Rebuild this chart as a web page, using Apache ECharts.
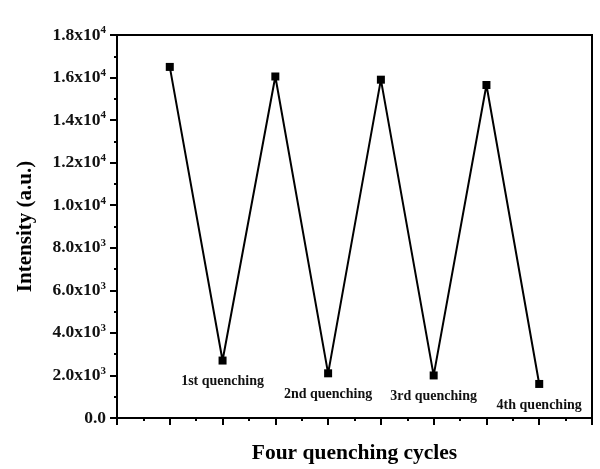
<!DOCTYPE html>
<html>
<head>
<meta charset="utf-8">
<script src="https://cdn.jsdelivr.net/npm/echarts@6/dist/echarts.min.js"></script>
<style>
html,body{margin:0;padding:0;background:#fff;}
#chart{width:600px;height:469px;}
</style>
</head>
<body>
<div id="chart"></div>
<script>
// Data
const cycles = [1, 2, 3, 4, 5, 6, 7, 8];
const intensity = [16500, 2700, 16050, 2100, 15900, 2000, 15650, 1600];
const annotations = ['', '1st quenching', '', '2nd quenching', '', '3rd quenching', '', '4th quenching'];
// y tick labels: value -> [mantissa, exponent]
const yTickValues = [0, 2000, 4000, 6000, 8000, 10000, 12000, 14000, 16000, 18000];
const yTickMantissa = ['0.0', '2.0', '4.0', '6.0', '8.0', '1.0', '1.2', '1.4', '1.6', '1.8'];
const yTickExponent = ['', '3', '3', '3', '3', '4', '4', '4', '4', '4'];

const FONT = '"Liberation Serif", "Times New Roman", serif';

const seriesData = cycles.map((c, i) => {
  const item = { value: [c, intensity[i]] };
  if (annotations[i]) {
    item.label = {
      show: true,
      position: 'bottom',
      distance: 10,
      formatter: annotations[i],
      fontFamily: FONT,
      fontWeight: 'bold',
      fontSize: 14,
      color: '#111'
    };
  }
  return item;
});

const chart = echarts.init(document.getElementById('chart'), null, { renderer: 'canvas' });
chart.setOption({
  backgroundColor: '#ffffff',
  animation: false,
  grid: {
    left: 117, right: 8, top: 35, bottom: 51,
    outerBoundsMode: 'none',
    containLabel: false,
    show: true, borderColor: '#000', borderWidth: 2, backgroundColor: 'transparent'
  },
  xAxis: {
    type: 'value',
    min: 0, max: 9, interval: 1,
    name: 'Four quenching cycles',
    nameLocation: 'middle',
    nameGap: 24,
    nameTextStyle: { fontFamily: FONT, fontWeight: 'bold', fontSize: 21.5, color: '#000' },
    axisLine: { show: true, onZero: false, lineStyle: { color: '#000', width: 2 } },
    axisTick: { show: true, inside: false, length: 7, lineStyle: { color: '#000', width: 2 } },
    minorTick: { show: true, splitNumber: 2, length: 3, lineStyle: { color: '#000', width: 2 } },
    axisLabel: { show: false },
    splitLine: { show: false },
    minorSplitLine: { show: false }
  },
  yAxis: {
    type: 'value',
    min: 0, max: 18000, interval: 2000,
    name: 'Intensity (a.u.)',
    nameLocation: 'middle',
    nameGap: 81,
    nameRotate: 90,
    nameTextStyle: { fontFamily: FONT, fontWeight: 'bold', fontSize: 21, color: '#000' },
    axisLine: { show: true, lineStyle: { color: '#000', width: 2 } },
    axisTick: { show: true, inside: false, length: 7, lineStyle: { color: '#000', width: 2 } },
    minorTick: { show: true, splitNumber: 2, length: 3, lineStyle: { color: '#000', width: 2 } },
    splitLine: { show: false },
    minorSplitLine: { show: false },
    axisLabel: {
      margin: 11,
      formatter: function (v) {
        const idx = yTickValues.indexOf(v);
        if (idx < 0) return '';
        if (!yTickExponent[idx]) return '{b|' + yTickMantissa[idx] + '}';
        return '{b|' + yTickMantissa[idx] + 'x10}{s|' + yTickExponent[idx] + '}';
      },
      rich: {
        b: { fontFamily: FONT, fontWeight: 'bold', fontSize: 17.5, color: '#111', lineHeight: 20 },
        s: { fontFamily: FONT, fontWeight: 'bold', fontSize: 11, color: '#111', verticalAlign: 'top', lineHeight: 20 }
      }
    }
  },
  series: [{
    type: 'line',
    data: seriesData,
    symbol: 'rect',
    symbolSize: 8,
    itemStyle: { color: '#000' },
    lineStyle: { color: '#000', width: 2 },
    label: { show: false },
    z: 3
  }]
});
</script>
</body>
</html>
